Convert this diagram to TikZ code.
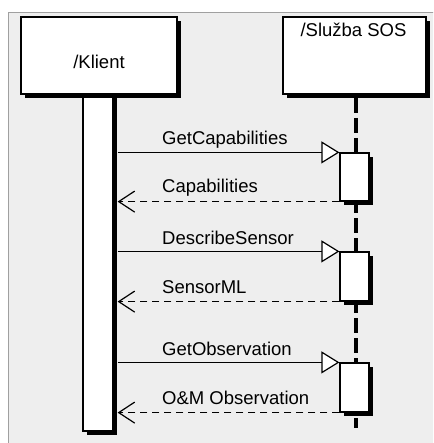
\documentclass[tikz,border=0pt]{standalone}
\usepackage{fontspec}
\setmainfont{Liberation Sans}
\usetikzlibrary{arrows.meta,shadows}
\definecolor{panelgray}{HTML}{EEEEEE}
\definecolor{panelline}{HTML}{A0A0A0}
\tikzset{
  umlbox/.style={draw=black, line width=1.2pt, fill=white, rectangle, inner sep=0pt,
    general shadow={fill=black, shadow xshift=4pt, shadow yshift=-4pt}},
  msglabel/.style={anchor=base west, inner sep=0pt, font=\fontsize{18.5}{20}\selectfont},
  namelabel/.style={inner sep=0pt, font=\fontsize{18.5}{20}\selectfont},
  lifeline/.style={line width=4pt, dash pattern=on 15pt off 5pt},
  callmsg/.style={line width=1.2pt, -{Triangle[length=18pt, width=22pt, fill=white, line width=1.2pt]}},
  retmsg/.style={line width=1.2pt, dash pattern=on 7pt off 5pt, -{Straight Barb[length=16pt, width=21pt, line width=1.2pt]}},
}
\begin{document}
\begin{tikzpicture}[x=1pt, y=-1pt]
  \useasboundingbox (0,0) rectangle (433,443);
  \clip (0,0) rectangle (433,443);

  % background panel
  \fill[panelgray] (8.5,12.5) rectangle (440,450);
  \draw[panelline, line width=1pt] (8.5,450) -- (8.5,12.5) -- (440,12.5);

  % client activation bar (behind its header box)
  \node[umlbox, minimum width=30pt, minimum height=337pt] (kbar) at (98,262.5) {};
  \coordinate (kedge) at ([xshift=4pt]kbar.east);

  % participant headers
  \node[umlbox, minimum width=156pt, minimum height=77pt] (klient) at (99,55.5) {};
  \node[namelabel] (klientname) at (99,61.5) {/Klient};

  \node[umlbox, minimum width=143pt, minimum height=77pt] (sos) at (354.5,55.5) {};
  \node[namelabel, anchor=base] (sosname) at (353.5,37) {/Služba SOS};

  % service lifeline
  \coordinate (lltop) at (356,98);
  \coordinate (llend) at (356,428);
  \draw[lifeline] (lltop) -- (llend);

  % service activation bars
  \node[umlbox, minimum width=29pt, minimum height=48pt] (act1) at (354.5,177) {};
  \node[umlbox, minimum width=29pt, minimum height=49pt] (act2) at (354.5,276.5) {};
  \node[umlbox, minimum width=29pt, minimum height=49pt] (act3) at (354.5,387.5) {};

  % messages
  \draw[callmsg] (kedge |- act1.north west) -- (act1.north west);
  \draw[retmsg] (act1.south west) -- (kedge |- act1.south west);
  \draw[callmsg] (kedge |- act2.north west) -- (act2.north west);
  \draw[retmsg] (act2.south west) -- (kedge |- act2.south west);
  \draw[callmsg] (kedge |- act3.north west) -- (act3.north west);
  \draw[retmsg] (act3.south west) -- (kedge |- act3.south west);

  % message labels
  \node[msglabel] (m1) at (162,145) {GetCapabilities};
  \node[msglabel] (m2) at (162,193) {Capabilities};
  \node[msglabel] (m3) at (162,244) {DescribeSensor};
  \node[msglabel] (m4) at (162,293) {SensorML};
  \node[msglabel] (m5) at (162,355) {GetObservation};
  \node[msglabel] (m6) at (162,404) {O\&M Observation};
\end{tikzpicture}
\end{document}
